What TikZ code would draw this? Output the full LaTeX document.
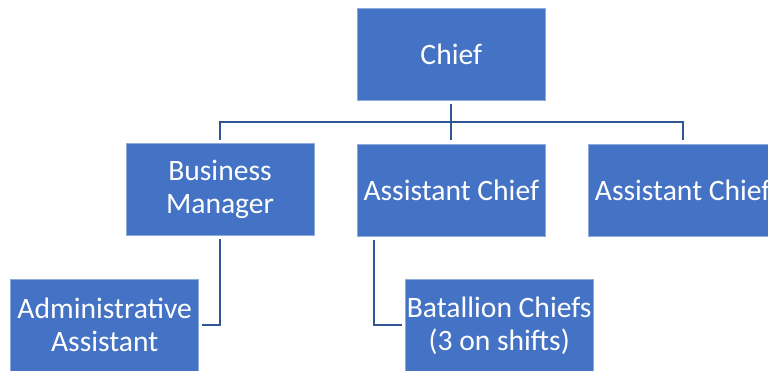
\documentclass[tikz,border=0pt]{standalone}
\usepackage{fontspec}
\setmainfont{Carlito}
\definecolor{boxblue}{HTML}{4472C4}
\definecolor{boxedge}{HTML}{8FAADC}
\definecolor{linkblue}{HTML}{2F5597}
\begin{document}
\begin{tikzpicture}[x=1pt,y=-1pt,
  orgbox/.style={rectangle, fill=boxblue, draw=boxedge, line width=0.6pt,
    minimum width=188pt, minimum height=92pt, inner sep=0pt, align=center,
    text=white, font=\fontsize{29.6}{33}\selectfont},
  conn/.style={draw=linkblue, line width=2.2pt}]
\useasboundingbox (0,0) rectangle (768,371);
\clip (0,0) rectangle (768,371);
\node[orgbox] (chief) at (451.3,54.2) {Chief};
\node[orgbox] (bm) at (220,189.7) {Business\\Manager};
\node[orgbox] (ac1) at (451.3,190) {Assistant Chief};
\node[orgbox] (ac2) at (682.7,190) {Assistant Chief};
\node[orgbox] (admin) at (104.7,325.3) {Administrative\\Assistant};
\node[orgbox] (bat) at (499.2,325.3) {Batallion Chiefs\\(3 on shifts)};
\coordinate (bus) at (451.3,121.7);
\draw[conn] ([yshift=-3.5pt]chief.south) -- ([yshift=3.5pt]ac1.north);
\draw[conn] ([yshift=3.5pt]bm.north) |- (bus) -| ([yshift=3.5pt]ac2.north);
\draw[conn] ([yshift=-3.5pt]bm.south) |- ([xshift=3pt]admin.east);
\draw[conn] ([xshift=17.3pt,yshift=-3.5pt]ac1.south west) |- ([xshift=-3pt]bat.west);
\end{tikzpicture}
\end{document}
